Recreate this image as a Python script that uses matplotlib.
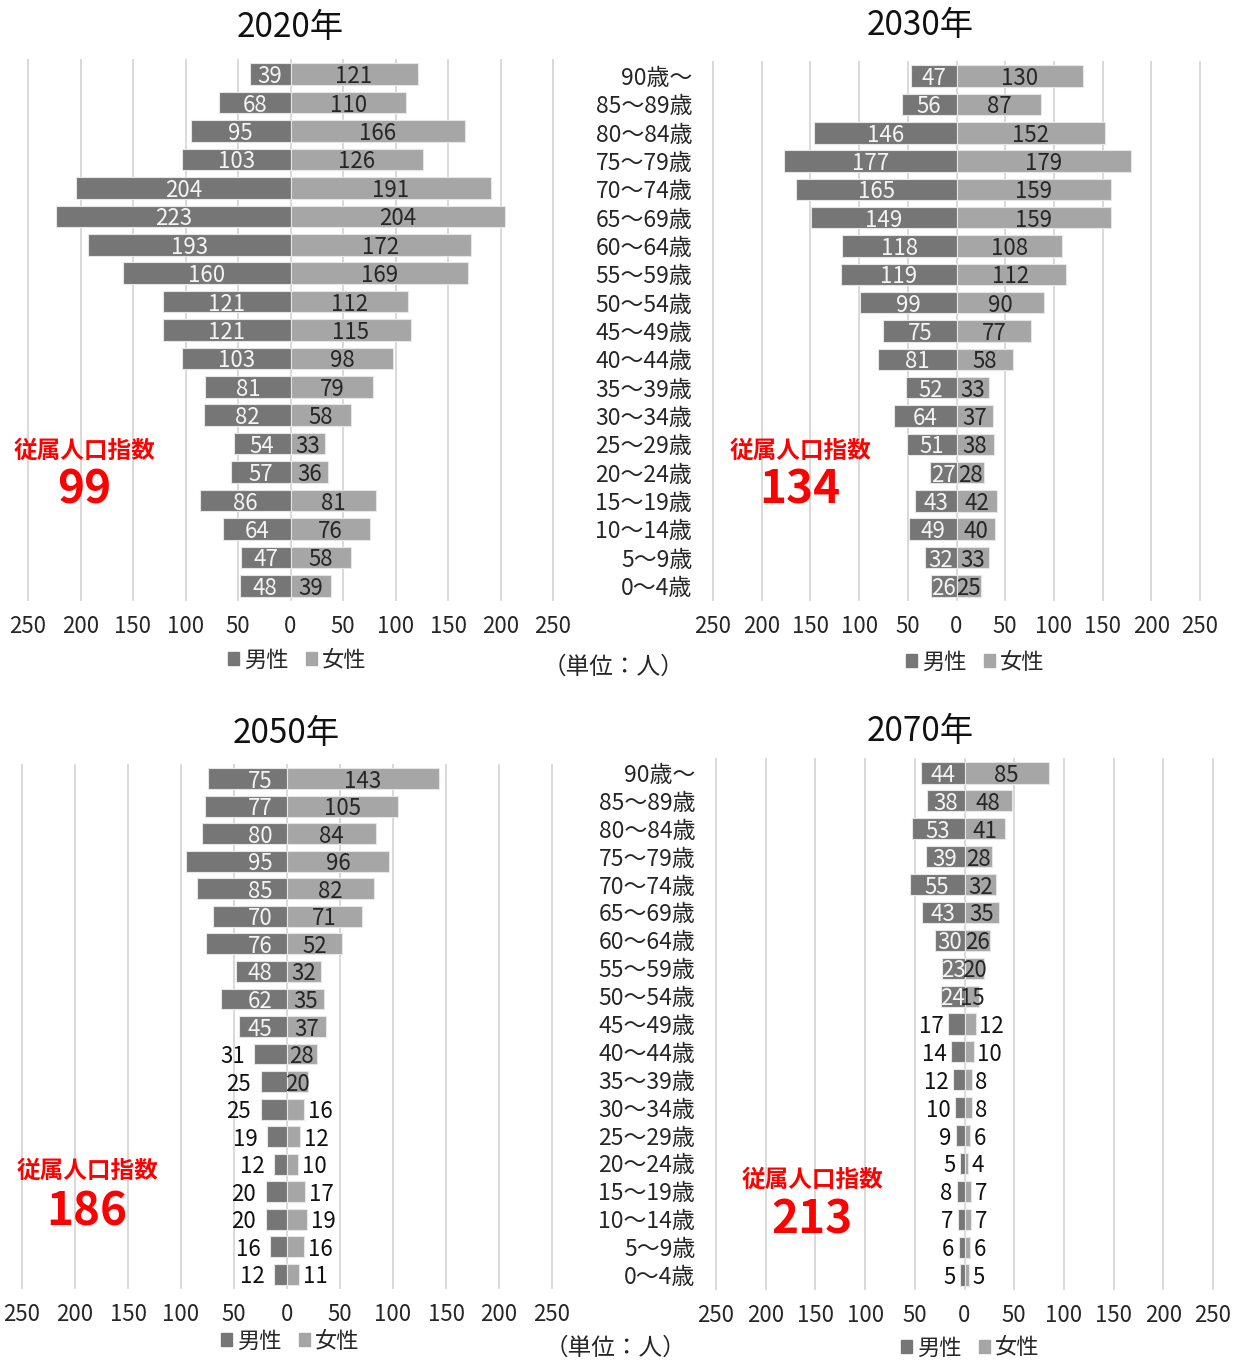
import matplotlib.pyplot as plt
import numpy as np
from matplotlib.patches import Patch

plt.rcParams["font.family"] = ["Noto Sans CJK JP", "DejaVu Sans"]

# Age groups, oldest first (top of each pyramid)
age_groups = ["90歳～", "85～89歳", "80～84歳", "75～79歳", "70～74歳",
              "65～69歳", "60～64歳", "55～59歳", "50～54歳", "45～49歳",
              "40～44歳", "35～39歳", "30～34歳", "25～29歳", "20～24歳",
              "15～19歳", "10～14歳", "5～9歳", "0～4歳"]

male_2020 = [39, 68, 95, 103, 204, 223, 193, 160, 121, 121,
             103, 81, 82, 54, 57, 86, 64, 47, 48]
female_2020 = [121, 110, 166, 126, 191, 204, 172, 169, 112, 115,
               98, 79, 58, 33, 36, 81, 76, 58, 39]

male_2030 = [47, 56, 146, 177, 165, 149, 118, 119, 99, 75,
             81, 52, 64, 51, 27, 43, 49, 32, 26]
female_2030 = [130, 87, 152, 179, 159, 159, 108, 112, 90, 77,
               58, 33, 37, 38, 28, 42, 40, 33, 25]

male_2050 = [75, 77, 80, 95, 85, 70, 76, 48, 62, 45,
             31, 25, 25, 19, 12, 20, 20, 16, 12]
female_2050 = [143, 105, 84, 96, 82, 71, 52, 32, 35, 37,
               28, 20, 16, 12, 10, 17, 19, 16, 11]

male_2070 = [44, 38, 53, 39, 55, 43, 30, 23, 24, 17,
             14, 12, 10, 9, 5, 8, 7, 6, 5]
female_2070 = [85, 48, 41, 28, 32, 35, 26, 20, 15, 12,
               10, 8, 8, 6, 4, 7, 7, 6, 5]

years = ["2020年", "2030年", "2050年", "2070年"]
dependency_ratio = [99, 134, 186, 213]
legend_labels = ["男性", "女性"]
unit_label = "（単位：人）"
ratio_label = "従属人口指数"

MALE = "#767676"
FEMALE = "#a6a6a6"
GRID = "#d9d9d9"
DARK = "#262626"
RED = "#ff0000"
W, H = 1234, 1360
FS = 16

fig = plt.figure(figsize=(W / 100, H / 100), dpi=100)


def fx(x):
    return x / W


def fy(y):
    return 1 - y / H


def px_axes(x0, y0, x1, y1):
    return fig.add_axes([fx(x0), fy(y1), (x1 - x0) / W, (y1 - y0) / H])


def pyramid(ax, male, female, show_ages=False, male_in=0, female_in=0,
            male_base=False, male_gap=4, female_gap=3):
    n = len(age_groups)
    y = np.arange(n)[::-1]
    male = np.array(male)
    female = np.array(female)
    ax.barh(y, -male, height=0.76, color=MALE, edgecolor="#e6e6e6",
            linewidth=0.8, zorder=2)
    ax.barh(y, female, height=0.76, color=FEMALE, edgecolor="#e6e6e6",
            linewidth=0.8, zorder=2)

    ticks = np.arange(-250, 251, 50)
    for t in ticks:
        ax.axvline(t, color=GRID, lw=1.4, zorder=0, clip_on=False)
    ax.set_xlim(-250, 250)
    ax.set_ylim(-0.5, n - 0.5)
    ax.set_xticks(ticks)
    ax.set_xticklabels([str(abs(t)) for t in ticks])
    ax.tick_params(axis="x", length=0, pad=11, labelsize=FS, labelcolor=DARK)
    for s in ax.spines.values():
        s.set_visible(False)
    if show_ages:
        ax.set_yticks(y)
        ax.set_yticklabels(age_groups)
        ax.tick_params(axis="y", length=0, pad=15, labelsize=FS + 0.5,
                       labelcolor=DARK)
    else:
        ax.set_yticks([])

    # value labels: inside the bar when wide enough, else just outside
    for yi, m, f in zip(y, male, female):
        if m >= male_in:
            if male_base:
                ax.text(-14, yi, str(m), ha="right", va="center_baseline",
                        color="#f4f4f4", fontsize=FS, zorder=3)
            else:
                ax.text(-m / 2, yi, str(m), ha="center", va="center_baseline",
                        color="#f4f4f4", fontsize=FS, zorder=3)
        else:
            ax.text(-m - male_gap, yi, str(m), ha="right",
                    va="center_baseline", color="#111111", fontsize=FS,
                    zorder=3)
        if f >= female_in:
            ax.text(f / 2, yi, str(f), ha="center", va="center_baseline",
                    color=DARK, fontsize=FS, zorder=3)
        else:
            ax.text(f + female_gap, yi, str(f), ha="left",
                    va="center_baseline", color="#111111", fontsize=FS,
                    zorder=3)


ax20 = px_axes(28, 60, 553, 600)
pyramid(ax20, male_2020, female_2020)

ax30 = px_axes(713, 62, 1200, 600)
pyramid(ax30, male_2030, female_2030, show_ages=True)

ax50 = px_axes(22, 765, 552, 1288)
pyramid(ax50, male_2050, female_2050, male_in=40, female_in=20,
        male_base=True, male_gap=9, female_gap=4)

ax70 = px_axes(716, 759, 1213, 1289)
pyramid(ax70, male_2070, female_2070, show_ages=True, male_in=20,
        female_in=15, male_gap=4, female_gap=3)

# titles
for (cx, cy), year in zip([(290, 27), (920, 25), (286, 733), (920, 731)],
                          years):
    fig.text(fx(cx), fy(cy), year, ha="center", va="center", fontsize=24,
             color="#111111")

# dependency ratio callouts
for (cx, cy1, cy2), r in zip([(84, 451, 490), (800, 451, 490),
                              (87, 1171, 1212), (812, 1180, 1220)],
                             dependency_ratio):
    fig.text(fx(cx), fy(cy1), ratio_label, ha="center", va="center",
             fontsize=17, fontweight="bold", color=RED)
    fig.text(fx(cx), fy(cy2), str(r), ha="center", va="center",
             fontsize=33, fontweight="bold", color=RED)

# legends
handles = [Patch(color=MALE), Patch(color=FEMALE)]
for cx, cy in [(297, 660), (975, 662), (290, 1341), (970, 1348)]:
    fig.legend(handles, legend_labels, loc="center",
               bbox_to_anchor=(fx(cx), fy(cy)), ncol=2, frameon=False,
               fontsize=FS, handlelength=0.5, handleheight=0.5,
               handletextpad=0.2, columnspacing=0.8, labelcolor=DARK)

for cx, cy in [(613, 667), (615, 1348)]:
    fig.text(fx(cx), fy(cy), unit_label, ha="center", va="center",
             fontsize=17, color=DARK)

fig.savefig("out.png", dpi=100)
